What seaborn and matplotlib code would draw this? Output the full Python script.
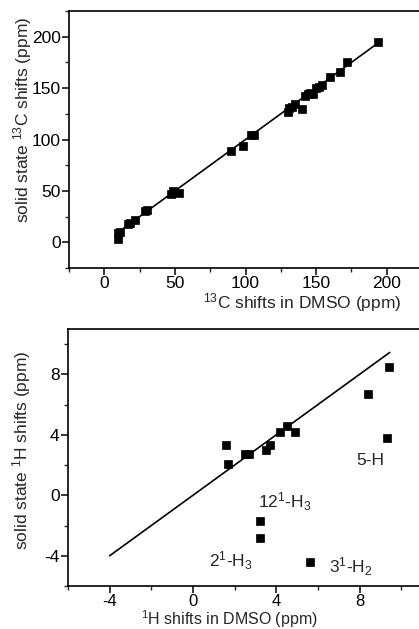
import matplotlib
matplotlib.use("Agg")
import matplotlib.pyplot as plt
from matplotlib.ticker import MultipleLocator
import seaborn as sns
import pandas as pd

# ---- data: 13C ----
c_dmso = [10, 10, 11, 17, 18, 22, 29, 30, 47, 49, 53, 90, 98, 104, 106,
          130, 131, 133, 135, 140, 142, 144, 146, 148, 150, 152, 154,
          160, 167, 172, 194]
c_solid = [9, 3, 10, 18, 19, 22, 30, 31, 47, 50, 48, 89, 94, 104, 104,
           127, 131, 132, 135, 130, 142, 144, 145, 144, 150, 151, 153,
           161, 166, 175, 195]
c_line_x = [8, 195]
c_line_y = [8, 195]

# ---- data: 1H ----
h_dmso = [1.6, 1.7, 2.5, 2.7, 3.5, 3.7, 4.2, 4.5, 4.9, 3.2, 3.2, 5.6, 8.4, 9.4, 9.3]
h_solid = [3.3, 2.1, 2.7, 2.7, 3.0, 3.3, 4.2, 4.6, 4.2, -1.7, -2.8, -4.4, 6.7, 8.5, 3.8]
h_line_x = [-4, 9.45]
h_line_y = [-4, 9.45]

h_labels = ["5-H", "$12^{1}$-H$_{3}$", "$2^{1}$-H$_{3}$", "$3^{1}$-H$_{2}$"]
h_label_x = [8.5, 4.4, 1.8, 7.6]
h_label_y = [2.3, -0.4, -4.3, -4.7]

sns.set_style("ticks")
plt.rcParams['font.family'] = ['Liberation Sans', 'DejaVu Sans']
plt.rcParams['mathtext.fontset'] = 'custom'
plt.rcParams['mathtext.rm'] = 'Liberation Sans'
plt.rcParams['mathtext.it'] = 'Liberation Sans'
plt.rcParams['mathtext.default'] = 'regular'
plt.rcParams['axes.unicode_minus'] = False

fig = plt.figure(figsize=(4.19, 6.29), dpi=100)
ax1 = fig.add_axes([69 / 419, 1 - 268 / 629, 353 / 419, 257 / 629])
ax2 = fig.add_axes([68 / 419, 1 - 586 / 629, 354 / 419, 257 / 629])

df_c = pd.DataFrame({"x": c_dmso, "y": c_solid})
df_cl = pd.DataFrame({"x": c_line_x, "y": c_line_y})
df_h = pd.DataFrame({"x": h_dmso, "y": h_solid})
df_hl = pd.DataFrame({"x": h_line_x, "y": h_line_y})

sns.lineplot(data=df_cl, x="x", y="y", ax=ax1, color="black", lw=1.2)
sns.scatterplot(data=df_c, x="x", y="y", ax=ax1, marker="s", s=30,
                color="black", edgecolor="black", linewidth=0.5, zorder=3)
sns.lineplot(data=df_hl, x="x", y="y", ax=ax2, color="black", lw=1.2)
sns.scatterplot(data=df_h, x="x", y="y", ax=ax2, marker="s", s=26,
                color="black", edgecolor="black", linewidth=0.5, zorder=3)

for t, x, y in zip(h_labels, h_label_x, h_label_y):
    ax2.text(x, y, t, ha="center", va="center", fontsize=12.5)

ax1.set_xlim(-25, 225)
ax1.set_ylim(-25, 225)
ax1.xaxis.set_major_locator(MultipleLocator(50))
ax1.xaxis.set_minor_locator(MultipleLocator(25))
ax1.yaxis.set_major_locator(MultipleLocator(50))
ax1.yaxis.set_minor_locator(MultipleLocator(25))
ax1.set_xlabel("$^{13}$C shifts in DMSO (ppm)", fontsize=12.5)
ax1.set_ylabel("solid state $^{13}$C shifts (ppm)", fontsize=12.5)
ax1.xaxis.set_label_coords(0.66, -0.088)
ax1.yaxis.set_label_coords(-0.10, 0.575)

ax2.set_xlim(-6, 11)
ax2.set_ylim(-6, 11)
ax2.xaxis.set_major_locator(MultipleLocator(4))
ax2.xaxis.set_minor_locator(MultipleLocator(2))
ax2.yaxis.set_major_locator(MultipleLocator(4))
ax2.yaxis.set_minor_locator(MultipleLocator(2))
ax2.set_xlabel("$^{1}$H shifts in DMSO (ppm)", fontsize=11.5)
ax2.set_ylabel("solid state $^{1}$H shifts (ppm)", fontsize=12.5)
ax2.xaxis.set_label_coords(0.455, -0.087)
ax2.yaxis.set_label_coords(-0.10, 0.53)

for ax in (ax1, ax2):
    for s in ax.spines.values():
        s.set_linewidth(1.2)
        s.set_color("black")
    ax.tick_params(which="major", direction="out", length=5, width=1.1,
                   labelsize=12.5, colors="black", pad=1)
    ax.tick_params(which="minor", direction="out", length=3, width=1.0)
    ax.tick_params(top=False, right=False, which="both")
ax2.tick_params(axis="x", which="major", labelsize=12, pad=0.5)

fig.savefig("out.png", dpi=100)
